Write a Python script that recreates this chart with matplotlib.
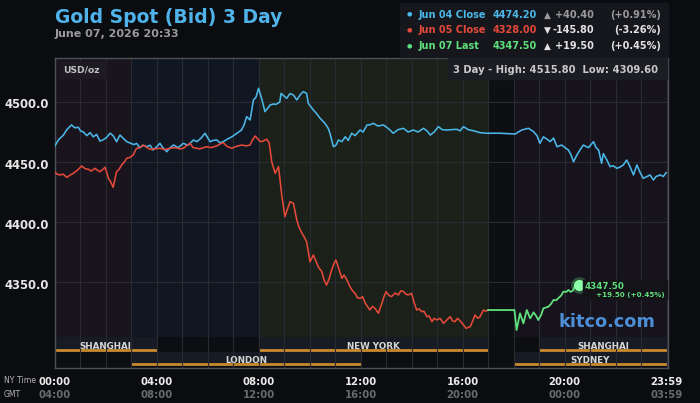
import matplotlib
matplotlib.use('Agg')
import matplotlib.pyplot as plt
import matplotlib.transforms as mtransforms
from matplotlib.patches import Rectangle

# prices, time in minutes from 00:00 NY time
blue_min = [0, 9, 21, 29, 40, 48, 56, 61, 68, 76,
            84, 91, 99, 107, 114, 121, 131, 138, 146, 154,
            161, 170, 180, 187, 193, 201, 208, 217, 225, 232,
            241, 248, 255, 264, 272, 280, 291, 303, 314, 327,
            335, 345, 354, 361, 366, 373, 382, 389, 397, 406,
            417, 429, 440, 446, 452, 460, 468, 474, 480, 488,
            495, 502, 507, 515, 521, 530, 533, 546, 554, 562,
            570, 578, 585, 593, 597, 609, 615, 625, 636, 644,
            648, 656, 662, 668, 676, 684, 691, 699, 707, 719,
            726, 735, 742, 750, 761, 774, 785, 797, 808, 821,
            832, 844, 855, 868, 876, 884, 893, 903, 912, 923,
            935, 946, 954, 962, 973, 985, 1001, 1017, 1048, 1084,
            1091, 1099, 1115, 1127, 1135, 1142, 1150, 1159, 1166, 1174,
            1182, 1193, 1201, 1209, 1215, 1221, 1229, 1236, 1244, 1256,
            1268, 1274, 1280, 1287, 1291, 1299, 1307, 1314, 1323, 1331,
            1338, 1346, 1354, 1362, 1370, 1378, 1385, 1394, 1401, 1409,
            1415, 1425, 1432, 1439]
blue_val = [4462.8, 4468.4, 4472.5, 4477.0, 4480.9, 4478.5, 4479.0, 4476.0, 4475.0, 4472.0,
            4474.5, 4471.0, 4473.0, 4467.5, 4468.5, 4470.0, 4474.0, 4472.0, 4467.0, 4472.5,
            4470.0, 4467.0, 4465.6, 4464.5, 4465.6, 4462.0, 4464.0, 4462.8, 4464.0, 4460.0,
            4463.0, 4465.6, 4462.0, 4458.6, 4462.0, 4464.2, 4462.0, 4465.6, 4464.0, 4468.4,
            4467.0, 4470.0, 4474.0, 4470.0, 4467.0, 4468.0, 4468.4, 4466.0, 4467.0, 4469.0,
            4471.0, 4474.0, 4476.7, 4481.0, 4487.8, 4485.0, 4501.7, 4504.0, 4511.4, 4502.0,
            4492.0, 4495.0, 4497.5, 4498.3, 4498.0, 4500.0, 4507.2, 4503.0, 4507.0, 4505.8,
            4501.7, 4506.0, 4508.6, 4507.2, 4498.9, 4493.3, 4491.0, 4486.4, 4482.3, 4478.0,
            4474.0, 4462.8, 4464.0, 4468.4, 4467.0, 4471.1, 4468.0, 4474.0, 4472.0, 4476.7,
            4475.0, 4480.9, 4481.0, 4482.3, 4480.0, 4480.9, 4478.0, 4474.0, 4477.0, 4478.1,
            4475.0, 4476.7, 4475.0, 4478.1, 4476.0, 4472.5, 4475.0, 4479.5, 4477.0, 4476.7,
            4477.0, 4477.3, 4476.0, 4479.5, 4477.0, 4476.1, 4474.5, 4474.0, 4474.0, 4473.4,
            4475.0, 4476.7, 4478.1, 4475.3, 4472.0, 4465.6, 4471.0, 4469.0, 4467.0, 4470.0,
            4462.8, 4464.2, 4462.0, 4460.0, 4456.0, 4450.3, 4456.0, 4460.0, 4464.2, 4462.0,
            4467.0, 4462.0, 4460.0, 4449.0, 4457.0, 4452.0, 4446.2, 4447.0, 4444.8, 4446.0,
            4447.6, 4451.7, 4446.0, 4439.3, 4447.6, 4441.0, 4436.5, 4438.0, 4439.3, 4435.1,
            4438.0, 4439.3, 4438.0, 4441.2]

red_min = [0, 6, 13, 20, 29, 36, 44, 53, 64, 72,
           80, 86, 95, 102, 107, 114, 119, 127, 133, 138,
           146, 152, 158, 164, 170, 178, 185, 193, 201, 209,
           218, 225, 236, 248, 260, 272, 284, 295, 303, 312,
           319, 326, 335, 342, 358, 368, 382, 389, 397, 406,
           417, 427, 440, 451, 460, 465, 472, 479, 484, 491,
           499, 505, 511, 519, 527, 535, 542, 549, 554, 562,
           570, 575, 582, 587, 593, 601, 609, 617, 622, 629,
           634, 640, 646, 652, 658, 662, 668, 676, 681, 688,
           695, 701, 707, 713, 719, 725, 731, 736, 742, 748,
           754, 762, 770, 775, 780, 787, 793, 801, 809, 815,
           821, 827, 832, 840, 846, 852, 857, 864, 869, 876,
           881, 888, 893, 899, 907, 915, 921, 931, 936, 942,
           948, 954, 961, 968, 978, 984, 989, 996, 1001, 1009,
           1015, 1020]
red_val = [4442.0, 4440.0, 4439.3, 4440.0, 4437.3, 4439.0, 4440.6, 4443.0, 4446.7, 4444.5,
           4444.0, 4442.5, 4444.8, 4443.0, 4442.0, 4444.0, 4445.7, 4436.5, 4433.0, 4429.0,
           4442.0, 4444.0, 4447.6, 4450.0, 4453.2, 4454.0, 4455.9, 4461.5, 4462.0, 4464.2,
           4462.0, 4460.6, 4461.0, 4461.5, 4460.5, 4461.5, 4462.0, 4461.0, 4461.5, 4464.0,
           4465.6, 4462.0, 4461.5, 4461.0, 4462.8, 4462.0, 4463.5, 4465.0, 4466.2, 4463.0,
           4461.5, 4463.0, 4464.2, 4463.5, 4464.2, 4468.0, 4471.7, 4469.0, 4467.0, 4467.5,
           4469.0, 4466.0, 4450.3, 4440.6, 4446.2, 4421.2, 4404.6, 4412.0, 4417.1, 4415.7,
           4401.8, 4396.0, 4390.8, 4388.0, 4383.8, 4367.1, 4372.7, 4365.8, 4362.0, 4358.8,
           4352.0, 4347.7, 4353.0, 4360.2, 4366.0, 4368.5, 4362.0, 4353.3, 4356.0, 4351.9,
           4346.3, 4343.0, 4340.8, 4337.0, 4336.7, 4338.0, 4332.5, 4330.0, 4326.9, 4330.0,
           4328.3, 4324.2, 4332.5, 4338.0, 4342.2, 4339.0, 4338.1, 4341.0, 4339.5, 4343.0,
           4342.2, 4340.0, 4339.5, 4340.8, 4333.0, 4326.9, 4328.0, 4325.5, 4326.0, 4321.4,
           4322.0, 4317.2, 4320.0, 4318.6, 4320.0, 4315.8, 4318.0, 4321.4, 4318.0, 4317.2,
           4320.0, 4318.0, 4315.0, 4311.7, 4313.1, 4318.0, 4322.8, 4320.0, 4321.4, 4326.9,
           4326.0, 4326.9]

green_min = [1020, 1082, 1087, 1095, 1103, 1111, 1119, 1127, 1133, 1138,
             1145, 1150, 1156, 1162, 1168, 1174, 1180, 1185, 1192, 1197,
             1204, 1209, 1214, 1219, 1222, 1227, 1233]
green_val = [4326.9, 4326.9, 4310.3, 4324.2, 4315.8, 4326.9, 4320.0, 4325.0, 4322.0, 4318.6,
             4323.0, 4328.3, 4329.0, 4329.7, 4332.0, 4335.3, 4335.0, 4336.7, 4339.0, 4342.2,
             4342.0, 4343.6, 4342.0, 4343.0, 4345.0, 4348.6, 4347.5]

legend_labels = ['Jun 04 Close', 'Jun 05 Close', 'Jun 07 Last']
legend_prices = ['4474.20', '4328.00', '4347.50']
legend_arrows = ['\u25b2', '\u25bc', '\u25b2']
legend_changes = ['+40.40', '-145.80', '+19.50']
legend_pcts = ['(+0.91%)', '(-3.26%)', '(+0.45%)']

y_ticks = [4350.0, 4400.0, 4450.0, 4500.0]
x_tick_min = [0, 240, 480, 720, 960, 1200, 1439]
ny_labels = ['00:00', '04:00', '08:00', '12:00', '16:00', '20:00', '23:59']
gmt_labels = ['04:00', '08:00', '12:00', '16:00', '20:00', '00:00', '03:59']

# background shading by session (hours)
shade_spans = [(0, 3), (3, 8), (8, 17), (17, 18), (18, 24)]
shade_colors = ['#1a141c', '#111722', '#1b2019', '#0e0f12', '#16131c']

# exchange bands: (name, start h, end h, row)
band_names = ['SHANGHAI', 'NEW YORK', 'SHANGHAI', 'LONDON', 'SYDNEY']
band_start = [0, 8, 19, 3, 18]
band_end = [4, 17, 24, 12, 24]
band_row = [0, 0, 0, 1, 1]

BG = '#0b0c10'
BLUE = '#4bb7e8'
RED = '#e4493a'
GREEN = '#5fe07d'


def fx(px):
    return px / 700.0


def fy(py):
    return 1 - py / 403.0


fig = plt.figure(figsize=(7, 4.03), dpi=100, facecolor=BG)
ax = fig.add_axes([54.5 / 700, 35.5 / 403, 613 / 700, 309.5 / 403])
ax.set_facecolor(BG)
ax.set_xlim(0, 1442)
ax.set_ylim(4279.1, 4536.6)

trans = mtransforms.blended_transform_factory(ax.transData, ax.transAxes)
band_top = 0.0976

for (s, e), c in zip(shade_spans, shade_colors):
    ax.axvspan(s * 60, e * 60, ymin=band_top, ymax=1, color=c, lw=0, zorder=0)
ax.axvspan(0, 1442, ymin=0, ymax=band_top, color='#0d0e12', lw=0, zorder=0)

# session bands
row_lo = [0.0533, 0.006]
row_hi = [band_top, 0.050]
row_line = [0.0565, 0.0103]
for name, s, e, r in zip(band_names, band_start, band_end, band_row):
    ax.axvspan(s * 60, e * 60, ymin=row_lo[r], ymax=row_hi[r], color='#161b24', lw=0, zorder=0.5)
    ax.plot([s * 60, e * 60], [row_line[r], row_line[r]], transform=trans,
            color='#c98a2e', lw=2, solid_capstyle='butt', zorder=1.5)
    ax.text((s + e) * 30, row_line[r] + 0.003, name, transform=trans, ha='center', va='baseline',
            color='#d6d6d6', fontsize=6.3, fontweight='bold', zorder=2)

# grid
ax.set_xticks(range(0, 1441, 60))
ax.set_yticks(y_ticks)
ax.tick_params(length=0, labelbottom=False, labelleft=False)
ax.grid(True, color='#292b33', lw=0.8, zorder=1)
for sp in ax.spines.values():
    sp.set_color('#4c4f57')
    sp.set_linewidth(1)

# price lines
ax.plot(blue_min, blue_val, color=BLUE, lw=1.15, zorder=3)
ax.plot(red_min, red_val, color=RED, lw=1.15, zorder=3)
ax.plot(green_min, green_val, color=GREEN, lw=1.3, zorder=3)
ax.plot(green_min[-1], green_val[-1], 'o', ms=12, color=GREEN, alpha=0.3, mew=0, zorder=4)
ax.plot(green_min[-1], green_val[-1], 'o', ms=8, color='#8dffa8', mew=0, zorder=5)

# y tick labels, sitting slightly below their grid line
ylab_trans = ax.get_yaxis_transform() + mtransforms.ScaledTranslation(0, -3 / 100, fig.dpi_scale_trans)
for v in y_ticks:
    ax.text(-0.009, v, f'{v:.1f}', transform=ylab_trans, ha='right', va='center',
            color='#e6e6e6', fontsize=8.4, fontweight='bold')

# x tick labels
for m, a, b in zip(x_tick_min, ny_labels, gmt_labels):
    ax.text(m, -0.0565, a, transform=trans, ha='center', va='baseline', color='#ececec',
            fontsize=7.3, fontweight='bold')
    ax.text(m, -0.1, b, transform=trans, ha='center', va='baseline', color='#6a6b70',
            fontsize=7.3, fontweight='bold')
fig.text(fx(4), fy(383), 'NY Time', color='#b5b5b5', fontsize=5.6, va='baseline')
fig.text(fx(4), fy(397), 'GMT', color='#b5b5b5', fontsize=5.6, va='baseline')

# title
fig.text(fx(55), fy(23), 'Gold Spot (Bid) 3 Day', color='#4fb3ea', fontsize=13.5,
         fontweight='bold', va='baseline')
fig.text(fx(55), fy(37), 'June 07, 2026 20:33', color='#9a9a9a', fontsize=8,
         fontweight='bold', va='baseline')

# legend box
fig.patches.append(Rectangle((fx(400), fy(57)), 268 / 700, 54 / 403, transform=fig.transFigure,
                             color='#15171c', zorder=0))
row_base = [17.7, 33.3, 49]
row_colors = [BLUE, RED, GREEN]
chg_colors = ['#9a9a9a', '#e2e2e2', '#e2e2e2']
for i in range(3):
    yb = fy(row_base[i])
    fig.text(fx(409), fy(row_base[i] - 3.5), '\u25cf', color=row_colors[i], fontsize=4.5,
             ha='center', va='center')
    fig.text(fx(419), yb, legend_labels[i], color=row_colors[i], fontsize=7, fontweight='bold')
    fig.text(fx(493), yb, legend_prices[i], color=row_colors[i], fontsize=7, fontweight='bold')
    fig.text(fx(547), yb, legend_arrows[i], color=chg_colors[i], fontsize=6.5, ha='center')
    fig.text(fx(594), yb, legend_changes[i], color=chg_colors[i], fontsize=7, fontweight='bold',
             ha='right')
    fig.text(fx(661), yb, legend_pcts[i], color=chg_colors[i], fontsize=7, fontweight='bold',
             ha='right')

# info boxes inside plot
fig.patches.append(Rectangle((fx(60), fy(78)), 46 / 700, 16 / 403, transform=fig.transFigure,
                             color='#1d1a22', zorder=2))
fig.text(fx(63), fy(72.7), 'USD/oz', color='#bfbfbf', fontsize=6.6, fontweight='bold', zorder=3)
fig.patches.append(Rectangle((fx(448), fy(79)), 219 / 700, 21 / 403, transform=fig.transFigure,
                             color='#1c1d22', zorder=2))
fig.text(fx(658), fy(72.7), '3 Day - High: 4515.80  Low: 4309.60', color='#c8c8c8',
         fontsize=7.2, fontweight='bold', ha='right', zorder=3)

# last price label
fig.patches.append(Rectangle((fx(583), fy(299)), 84 / 700, 19 / 403, transform=fig.transFigure,
                             color='#141318', zorder=2))
fig.text(fx(585), fy(289.3), legend_prices[2], color=GREEN, fontsize=6.3, fontweight='bold', zorder=3)
fig.text(fx(665), fy(297), f'{legend_changes[2]} {legend_pcts[2]}', color=GREEN, fontsize=5.1,
         fontweight='bold', ha='right', zorder=3)

fig.text(fx(558), fy(327.3), 'kitco.com', color='#4d8fd6', fontsize=12.8, fontweight='bold', zorder=3)

fig.savefig('out.png', dpi=100, facecolor=BG)
